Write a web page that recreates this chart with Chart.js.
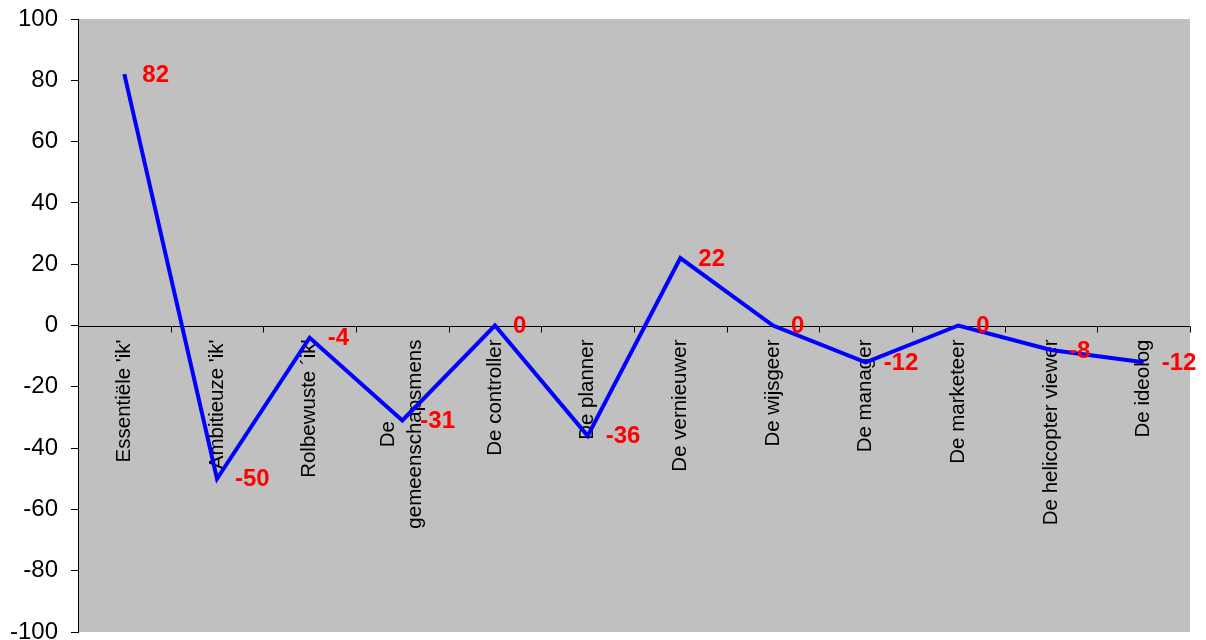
<!DOCTYPE html>
<html>
<head>
<meta charset="utf-8">
<script src="https://cdn.jsdelivr.net/npm/chart.js@4"></script>
<style>
  html, body { margin: 0; padding: 0; background: #ffffff; }
  #wrap { width: 1206px; height: 640px; position: relative; }
</style>
</head>
<body>
<div id="wrap"><canvas id="c" width="1206" height="640"></canvas></div>
<script>
// Profile categories (a nested array is a wrapped, multi-line label)
const categories = [
  "Essentiële 'ik'",
  "Ambitieuze 'ik'",
  "Rolbewuste ´ik'",
  ["De", "gemeenschapsmens"],
  "De controller",
  "De planner",
  "De vernieuwer",
  "De wijsgeer",
  "De manager",
  "De marketeer",
  "De helicopter viewer",
  "De ideolog"
];
// Score per profile
const scores = [82, -50, -4, -31, 0, -36, 22, 0, -12, 0, -8, -12];
// Value axis range and step
const yMin = -100;
const yMax = 100;
const yStep = 20;

const FONT = "'Liberation Sans', Arial, sans-serif";

// Grey plot background
const plotBackground = {
  id: 'plotBackground',
  beforeDraw(chart) {
    const { ctx, chartArea: a } = chart;
    ctx.save();
    ctx.fillStyle = '#C0C0C0';
    ctx.fillRect(a.left, a.top, a.right - a.left, a.bottom - a.top);
    ctx.restore();
  }
};

// Category axis drawn along the zero line, with rotated labels hanging below it
const zeroAxis = {
  id: 'zeroAxis',
  beforeDatasetsDraw(chart) {
    const { ctx, chartArea: a, scales: { x, y } } = chart;
    const y0 = Math.round(y.getPixelForValue(0)) + 0.5;
    const n = categories.length;
    const step = n > 1 ? x.getPixelForValue(1) - x.getPixelForValue(0) : (a.right - a.left);
    ctx.save();
    ctx.strokeStyle = '#000000';
    ctx.lineWidth = 1;
    ctx.beginPath();
    ctx.moveTo(a.left, y0);
    ctx.lineTo(a.right, y0);
    // tick marks on the category boundaries
    for (let i = 1; i <= n; i++) {
      const xb = Math.round(x.getPixelForValue(i - 1) + step / 2) + 0.5;
      ctx.moveTo(xb, y0);
      ctx.lineTo(xb, y0 + 6);
    }
    ctx.stroke();

    ctx.fillStyle = '#000000';
    ctx.font = '20.5px ' + FONT;
    ctx.textBaseline = 'middle';
    const lineH = 27;
    categories.forEach((lab, i) => {
      const lines = Array.isArray(lab) ? lab : [lab];
      const cx = x.getPixelForValue(i);
      const maxW = Math.max(...lines.map(l => ctx.measureText(l).width));
      ctx.save();
      ctx.translate(cx, y0 + 13);
      ctx.rotate(-Math.PI / 2);
      ctx.textAlign = 'center';
      lines.forEach((l, j) => {
        ctx.fillText(l, -maxW / 2, (j - (lines.length - 1) / 2) * lineH);
      });
      ctx.restore();
    });
    ctx.restore();
  }
};

// Value labels to the right of each point
const valueLabels = {
  id: 'valueLabels',
  afterDatasetsDraw(chart) {
    const { ctx } = chart;
    const meta = chart.getDatasetMeta(0);
    ctx.save();
    ctx.fillStyle = '#FF0000';
    ctx.font = 'bold 24px ' + FONT;
    ctx.textAlign = 'left';
    ctx.textBaseline = 'middle';
    meta.data.forEach((pt, i) => {
      ctx.fillText(String(scores[i]), pt.x + 18, pt.y + 1);
    });
    ctx.restore();
  }
};

new Chart(document.getElementById('c'), {
  type: 'line',
  data: {
    labels: categories.map(c => Array.isArray(c) ? c.join(' ') : c),
    datasets: [{
      data: scores,
      borderColor: '#0000FF',
      borderWidth: 4,
      pointRadius: 0,
      pointHoverRadius: 0,
      tension: 0,
      fill: false
    }]
  },
  options: {
    responsive: false,
    animation: false,
    devicePixelRatio: 1,
    layout: { padding: { top: 19, bottom: 8, right: 16, left: 0 } },
    plugins: {
      legend: { display: false },
      tooltip: { enabled: false }
    },
    scales: {
      x: {
        type: 'category',
        display: false,
        offset: true
      },
      y: {
        min: yMin,
        max: yMax,
        ticks: {
          stepSize: yStep,
          color: '#000000',
          padding: 13,
          font: { family: FONT, size: 24 }
        },
        grid: {
          drawOnChartArea: false,
          drawTicks: true,
          tickLength: 7,
          color: '#000000',
          lineWidth: 1
        },
        border: { display: true, color: '#000000', width: 1 },
        afterFit(scale) {
          scale.width = 78;
          scale.paddingTop = 0;
          scale.paddingBottom = 0;
        }
      }
    }
  },
  plugins: [plotBackground, zeroAxis, valueLabels]
});
</script>
</body>
</html>
